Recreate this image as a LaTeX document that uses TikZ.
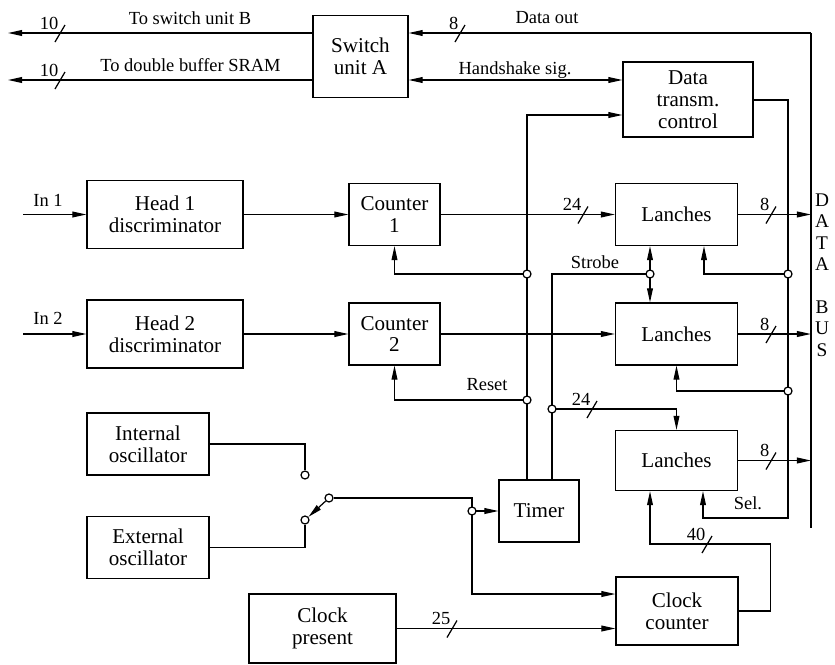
\documentclass[tikz,border=0pt]{standalone}
\usepackage{fontspec}
\setmainfont{Liberation Serif}
\usetikzlibrary{arrows.meta, positioning, calc}

\tikzset{
    wire/.style={line width=0.7pt},
    blk/.style={draw, wire, align=center, inner sep=1pt,
        minimum width=2.44cm, minimum height=1.24cm,
        font=\fontsize{12}{12.5}\selectfont},
    lbl/.style={inner sep=0pt, font=\fontsize{10.5}{12}\selectfont},
    jct/.style={circle, draw, wire, fill=white, inner sep=0pt, minimum size=0.16cm},
    >={Triangle[length=8pt,width=3.3pt]}
}

% bus width mark: x, y, number of lines
\newcommand{\buswidth}[3]{%
    \draw[wire] (#1-5,#2+9) -- (#1+5,#2-8);
    \node[lbl, anchor=south east] at (#1-1,#2-3) {#3};
}

\begin{document}
\begin{tikzpicture}[x=0.02cm, y=-0.02cm, wire]
    \useasboundingbox (0,0) rectangle (835,664);

    % Blocks
    \node[blk, minimum width=1.9cm, minimum height=1.64cm] (swA) at (360.5,56.5) {Switch\\unit A};
    \node[blk, minimum width=2.6cm, minimum height=1.5cm] (dtc) at (688,99.5) {Data\\transm.\\control};
    \node[blk, minimum width=3.12cm, minimum height=1.36cm] (head1) at (165,214.5) {Head 1\\discriminator};
    \node[blk, minimum width=3.12cm, minimum height=1.36cm] (head2) at (165,334) {Head 2\\discriminator};
    \node[blk, minimum width=1.82cm] (cnt1) at (394.5,214.5) {Counter\\1};
    \node[blk, minimum width=1.82cm] (cnt2) at (394.5,334) {Counter\\2};
    \node[blk] (lan1) at (676.5,214.5) {Lanches};
    \node[blk] (lan2) at (676.5,334) {Lanches};
    \node[blk, minimum height=1.2cm] (lan3) at (676.5,460.5) {Lanches};
    \node[blk] (intosc) at (148,444) {Internal\\oscillator};
    \node[blk] (extosc) at (148,547.5) {External\\oscillator};
    \node[blk, minimum width=1.6cm] (timer) at (539,511) {Timer};
    \node[blk, minimum height=1.36cm] (clkcnt) at (677,611) {Clock\\counter};
    \node[blk, minimum width=2.94cm, minimum height=1.38cm] (clkpre) at (322.5,628.5) {Clock\\present};

    % Switch contacts
    \node[jct] (su) at (305,475) {};
    \node[jct] (sl) at (305,520) {};
    \node[jct] (sp) at (329,498) {};

    % Free ends, corners and junctions
    \coordinate (outB) at (8,33);
    \coordinate (outS) at (8,80);
    \coordinate (in1) at (23,214.5);
    \coordinate (in2) at (23,334);
    \coordinate (busT) at (811,33);
    \coordinate (busB) at (811,528);
    \coordinate (dtcin) at (527,115);
    \coordinate (dtco) at (788,100);
    \coordinate (selc) at (788,518);
    \coordinate (stc) at (552,274);
    \coordinate (j1) at (527,274);
    \coordinate (j2) at (527,400);
    \coordinate (j3) at (788,274);
    \coordinate (j4) at (788,391);
    \coordinate (j5) at (552,409);
    \coordinate (jst) at (650,274);
    \coordinate (jt) at (472,511);

    % Switch unit A
    \draw[->] (swA.west |- outB) -- (outB);
    \draw[->] (swA.west |- outS) -- (outS);
    \buswidth{60}{33}{10}
    \buswidth{60}{80}{10}
    \node[lbl] at (190,18) {To switch unit B};
    \node[lbl] at (190.5,65) {To double buffer SRAM};
    \draw (busT) -- (busB);
    \draw[->] (busT) -- (swA.east |- busT);
    \buswidth{460}{33}{8}
    \node[lbl] at (547,18) {Data out};
    \draw[<->] (swA.east |- outS) -- (dtc.west |- outS);
    \node[lbl] at (515,70) {Handshake sig.};

    % Heads and counters
    \draw[->] (in1) -- (head1.west);
    \node[lbl] at (48,200) {In 1};
    \draw[->] (in2) -- (head2.west);
    \node[lbl] at (48,318) {In 2};
    \draw[->] (head1.east) -- (cnt1.west);
    \draw[->] (head2.east) -- (cnt2.west);
    \draw[->] (cnt1.east) -- (lan1.west);
    \buswidth{583}{214.5}{24}
    \draw[->] (cnt2.east) -- (lan2.west);

    % Latches to data bus
    \foreach \n/\y in {1/214.5, 2/334, 3/460.5} {
        \draw[->] (lan\n.east) -- (lan\n.east -| busT);
        \buswidth{771}{\y}{8}
    }

    % Timer
    \draw[->] (timer.north -| j1) -- (dtcin) -- (dtc.west |- dtcin);
    \draw[->] (j1) -| (cnt1.south);
    \draw[->] (j2) -| (cnt2.south);
    \node[lbl] at (487,385) {Reset};
    \draw (timer.north -| j5) -- (stc) -- (jst);
    \draw[->] (jst) -- (jst |- lan1.south);
    \draw[->] (jst) -- (jst |- lan2.north);
    \node[lbl] at (595,262) {Strobe};
    \draw[->] (j5) -| (lan3.north);
    \buswidth{592}{409}{24}

    % Data transm. control
    \draw[->] (dtc.east |- dtco) -| (selc) -| ([xshift=0.53cm]lan3.south);
    \node[lbl] at (748,503) {Sel.};
    \draw[->] (j3) -| ([xshift=0.55cm]lan1.south);
    \draw[->] (j4) -| (lan2.south);

    % Oscillators
    \draw (intosc.east) -| (su);
    \draw (extosc.east) -| (sl);
    \draw[->] (sp) -- (sl);
    \draw (sp.east) -- (sp -| jt) -- (jt);
    \draw[->] (jt) -- (timer.west);
    \draw[->] (jt) |- ([yshift=0.34cm]clkcnt.west);

    % Clock counter
    \draw[->] (clkpre.east) -- (clkpre.east -| clkcnt.west);
    \buswidth{452}{628.5}{25}
    \draw[->] (clkcnt.east) -- ++(32,0) -- ++(0,-67) -| ([xshift=-0.53cm]lan3.south);
    \buswidth{707}{544}{40}

    % Junctions
    \foreach \j in {j1, j2, j3, j4, j5, jst, jt}
        \node[jct] at (\j) {};

    % Data bus
    \node[inner sep=0pt, align=center, font=\fontsize{11}{12.2}\selectfont] (dbus) at (822,275)
        {D\\A\\T\\A\\[12.2pt]B\\U\\S};
\end{tikzpicture}
\end{document}
